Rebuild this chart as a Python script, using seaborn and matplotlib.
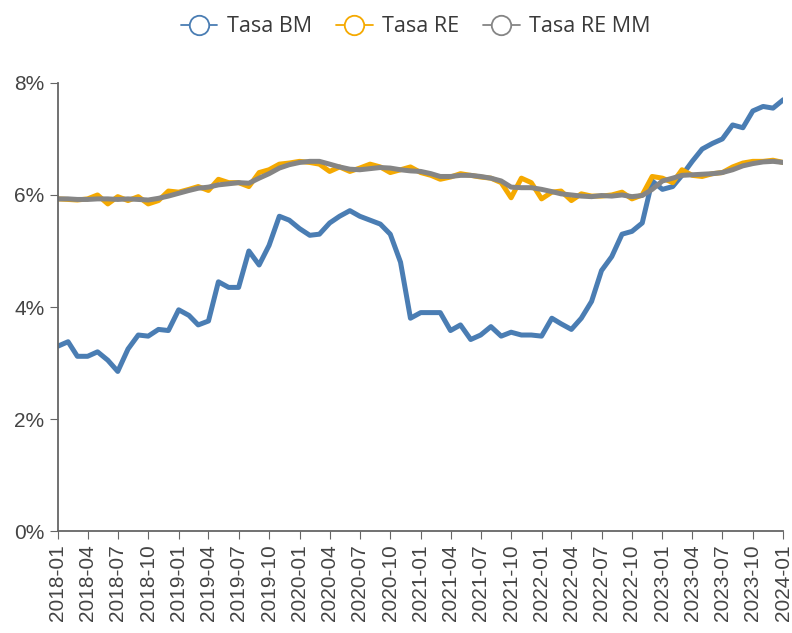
import seaborn as sns
import pandas as pd
import numpy as np
import matplotlib.pyplot as plt
import matplotlib.dates as mdates
from matplotlib.lines import Line2D
from matplotlib.ticker import FuncFormatter

# monthly series, 2018-01 .. 2024-01 (values in %)
months = pd.date_range("2018-01-01", "2024-01-01", freq="MS")

tasa_bm = [3.30, 3.38, 3.12, 3.12, 3.20, 3.05, 2.85, 3.25, 3.50, 3.48,
           3.60, 3.58, 3.95, 3.85, 3.68, 3.75, 4.45, 4.35, 4.35, 5.00,
           4.75, 5.10, 5.62, 5.55, 5.40, 5.28, 5.30, 5.50, 5.62, 5.72,
           5.62, 5.55, 5.48, 5.30, 4.80, 3.80, 3.90, 3.90, 3.90, 3.58,
           3.68, 3.42, 3.50, 3.65, 3.48, 3.55, 3.50, 3.50, 3.48, 3.80,
           3.70, 3.60, 3.80, 4.10, 4.65, 4.90, 5.30, 5.35, 5.50, 6.25,
           6.10, 6.15, 6.35, 6.60, 6.82, 6.92, 7.00, 7.25, 7.20, 7.50,
           7.58, 7.55, 7.70]

tasa_re = [5.93, 5.92, 5.91, 5.93, 6.00, 5.84, 5.97, 5.90, 5.97, 5.84,
           5.90, 6.07, 6.05, 6.10, 6.15, 6.08, 6.28, 6.22, 6.22, 6.15,
           6.40, 6.45, 6.55, 6.57, 6.60, 6.58, 6.55, 6.42, 6.50, 6.42,
           6.48, 6.55, 6.50, 6.40, 6.45, 6.50, 6.40, 6.35, 6.28, 6.32,
           6.38, 6.35, 6.32, 6.30, 6.22, 5.95, 6.30, 6.22, 5.93, 6.05,
           6.07, 5.90, 6.02, 5.98, 5.98, 6.00, 6.05, 5.93, 6.00, 6.33,
           6.30, 6.22, 6.45, 6.35, 6.33, 6.38, 6.40, 6.50, 6.57, 6.60,
           6.60, 6.62, 6.58]

tasa_re_mm = [5.93, 5.93, 5.92, 5.92, 5.93, 5.93, 5.92, 5.93, 5.92, 5.91,
              5.94, 5.98, 6.03, 6.08, 6.12, 6.14, 6.18, 6.20, 6.22, 6.21,
              6.30, 6.38, 6.48, 6.54, 6.58, 6.60, 6.60, 6.55, 6.50, 6.46,
              6.45, 6.47, 6.49, 6.48, 6.45, 6.43, 6.42, 6.38, 6.33, 6.33,
              6.35, 6.35, 6.33, 6.30, 6.25, 6.14, 6.13, 6.13, 6.10, 6.06,
              6.02, 6.00, 5.98, 5.97, 5.99, 5.98, 6.00, 5.97, 5.99, 6.10,
              6.25, 6.30, 6.35, 6.36, 6.37, 6.38, 6.40, 6.45, 6.52, 6.56,
              6.59, 6.60, 6.58]

series_names = ["Tasa BM", "Tasa RE", "Tasa RE MM"]
colors = ["#4a7db3", "#f5a900", "#858585"]

df = pd.DataFrame({"fecha": months, "Tasa BM": tasa_bm,
                   "Tasa RE": tasa_re, "Tasa RE MM": tasa_re_mm})
long_df = df.melt(id_vars="fecha", var_name="serie", value_name="tasa")

sns.set_style("ticks")
plt.rcParams["font.family"] = ["Liberation Sans", "DejaVu Sans"]

fig = plt.figure(figsize=(7.92, 6.33), dpi=100)
ax = fig.add_axes([0.073, 0.161, 0.916, 0.708])

sns.lineplot(data=long_df, x="fecha", y="tasa", hue="serie",
             hue_order=series_names, palette=colors, linewidth=3.6,
             legend=False, ax=ax)
for ln in ax.lines:
    ln.set_solid_joinstyle("round")
    ln.set_solid_capstyle("round")

ax.set_ylim(0, 8)
ax.set_yticks([0, 2, 4, 6, 8])
ax.yaxis.set_major_formatter(FuncFormatter(lambda v, p: f"{v:.0f}%"))
ax.set_xlim(months[0], months[-1])
ax.set_xticks(months[::3])
ax.xaxis.set_major_formatter(mdates.DateFormatter("%Y-%m"))
ax.tick_params(axis="x", rotation=90, labelsize=15, length=6,
               color="#666666", labelcolor="#444444")
ax.tick_params(axis="y", labelsize=15, length=6,
               color="#666666", labelcolor="#444444")
ax.set_xlabel("")
ax.set_ylabel("")
for side in ["top", "right"]:
    ax.spines[side].set_visible(False)
for side in ["left", "bottom"]:
    ax.spines[side].set_color("#666666")
    ax.spines[side].set_linewidth(1.3)

handles = [Line2D([0], [0], color=c, linewidth=1.3, marker="o",
                  markersize=14, markerfacecolor="white",
                  markeredgecolor=c, markeredgewidth=1.3)
           for c in colors]
fig.legend(handles, series_names, loc="upper center",
           bbox_to_anchor=(0.525, 1.005), ncol=3, frameon=False,
           handlelength=1.7, handletextpad=0.45,
           columnspacing=1.1, labelcolor="#3a3a3a",
           prop={"family": ["Open Sans", "DejaVu Sans"], "size": 15.5})

fig.savefig("out.png", dpi=100)
